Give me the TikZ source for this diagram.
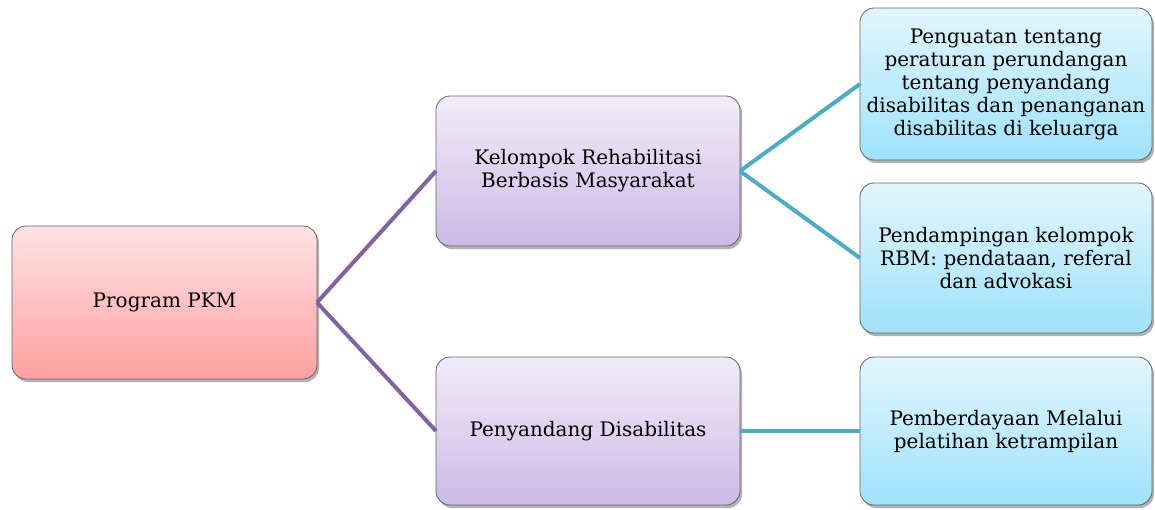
\documentclass[tikz,border=0pt]{standalone}
\usepackage{fontspec}
\setmainfont{DejaVu Serif}
\usetikzlibrary{shadows}
\definecolor{pinkT}{RGB}{255,226,229}
\definecolor{pinkB}{RGB}{255,160,160}
\definecolor{purT}{RGB}{241,236,249}
\definecolor{purB}{RGB}{204,186,230}
\definecolor{bluT}{RGB}{226,246,255}
\definecolor{bluB}{RGB}{158,226,251}
\definecolor{purLine}{RGB}{128,100,162}
\definecolor{tealLine}{RGB}{75,172,198}
\definecolor{edge}{RGB}{100,100,100}
\tikzset{
  box/.style={rectangle, rounded corners=14pt, draw=edge, line width=0.8pt,
    inner sep=0pt, outer sep=0pt, align=center,
    font=\fontsize{20}{23}\selectfont,
    drop shadow={shadow xshift=2pt, shadow yshift=-3pt, opacity=0.3, fill=black}},
  pinkbox/.style={box, top color=pinkT, bottom color=pinkB},
  purbox/.style={box, top color=purT, bottom color=purB},
  blubox/.style={box, top color=bluT, bottom color=bluB},
  purcon/.style={draw=purLine, line width=4pt},
  tealcon/.style={draw=tealLine, line width=4pt}
}
\begin{document}
\begin{tikzpicture}[x=1pt,y=-1pt]
\useasboundingbox (0,0) rectangle (1155,509);
\node[pinkbox, minimum width=305pt, minimum height=153pt] (pkm) at (164.5,302.5) {Program PKM};
\node[purbox, minimum width=304pt, minimum height=150pt] (krbm) at (588,171) {Kelompok Rehabilitasi\\Berbasis Masyarakat};
\node[purbox, minimum width=304pt, minimum height=148pt] (pd) at (588,431) {Penyandang Disabilitas};
\node[blubox, minimum width=292pt, minimum height=152pt] (peng) at (1006,84) {Penguatan tentang\\peraturan perundangan\\tentang penyandang\\disabilitas dan penanganan\\disabilitas di keluarga};
\node[blubox, minimum width=292pt, minimum height=150pt] (pend) at (1006,258) {Pendampingan kelompok\\RBM: pendataan, referal\\dan advokasi};
\node[blubox, minimum width=292pt, minimum height=148pt] (pemb) at (1006,431) {Pemberdayaan Melalui\\pelatihan ketrampilan};
\draw[purcon] (pkm.east) -- (krbm.west);
\draw[purcon] (pkm.east) -- (pd.west);
\draw[tealcon] (krbm.east) -- (peng.west);
\draw[tealcon] (krbm.east) -- (pend.west);
\draw[tealcon] (pd.east) -- (pemb.west);
\end{tikzpicture}
\end{document}
